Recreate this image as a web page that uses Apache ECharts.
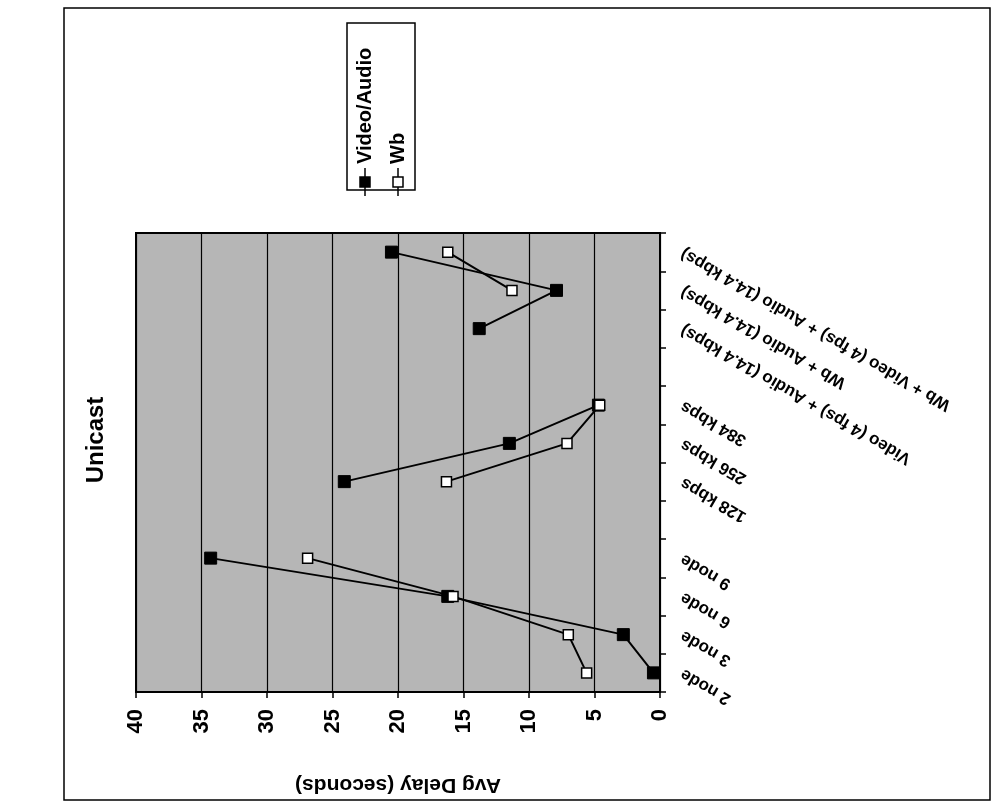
<!DOCTYPE html>
<html><head><meta charset="utf-8">
<script src="https://cdn.jsdelivr.net/npm/echarts@6/dist/echarts.min.js"></script>
<style>html,body{margin:0;padding:0;background:#fff}#c{width:997px;height:809px}</style>
</head><body><div id="c"></div>
<script>
const categories = ['2 node','3 node','6 node','9 node','','128 kbps','256 kbps','384 kbps','','Video (4 fps) + Audio (14.4 kbps)','Wb + Audio (14.4 kbps)','Wb + Video (4 fps) + Audio (14.4 kbps)'];
const videoAudio = [0.5, 2.8, 16.2, 34.3, null, 24.1, 11.5, 4.7, null, 13.8, 7.9, 20.5];
const wb = [5.6, 7.0, 15.8, 26.9, null, 16.3, 7.1, 4.6, null, null, 11.3, 16.2];
const seriesNames = ['Video/Audio', 'Wb'];
const titleText = 'Unicast';
const valueAxisTitle = 'Avg Delay (seconds)';
const valueMin = 0, valueMax = 40, valueStep = 5;

const FONT = 'Liberation Sans, Arial, sans-serif';
const chart = echarts.init(document.getElementById('c'), null, {renderer: 'canvas'});

function legendItem(i, x, filled) {
  return [
    {type: 'line', shape: {x1: x, y1: 168, x2: x, y2: 196}, style: {stroke: '#000', lineWidth: 1.5}},
    {type: 'rect', shape: {x: x - 5, y: 177, width: 10, height: 10},
     style: {fill: filled ? '#000' : '#fff', stroke: '#000', lineWidth: 1.5}},
    {type: 'text', x: x, y: 164, rotation: Math.PI / 2,
     style: {text: seriesNames[i], font: 'bold 20px ' + FONT, fill: '#000', align: 'left', verticalAlign: 'middle'}}
  ];
}

const option = {
  animation: false,
  backgroundColor: '#fff',
  grid: {left: 136, right: 337, top: 233, bottom: 117, show: true, backgroundColor: '#b6b6b6', borderColor: '#000', borderWidth: 2},
  xAxis: {
    type: 'value', min: valueMin, max: valueMax, interval: valueStep, inverse: true, position: 'bottom',
    axisLine: {show: true, lineStyle: {color: '#000', width: 2}},
    axisTick: {show: true, length: 6, lineStyle: {color: '#000', width: 1.5}},
    splitLine: {show: true, lineStyle: {color: '#000', width: 1.2}},
    axisLabel: {rotate: 90, margin: 17, fontSize: 22, fontWeight: 'bold', fontFamily: FONT, color: '#000'},
    name: valueAxisTitle, nameLocation: 'middle', nameRotate: 180, nameGap: 82,
    nameTextStyle: {fontSize: 21, fontWeight: 'bold', fontFamily: FONT, color: '#000'}
  },
  yAxis: {
    type: 'category', data: categories, position: 'right', boundaryGap: true,
    axisLine: {show: true, lineStyle: {color: '#000', width: 2}},
    axisTick: {show: true, length: 6, alignWithLabel: false, lineStyle: {color: '#000', width: 1.5}},
    splitLine: {show: false},
    axisLabel: {interval: 0, rotate: 150, align: 'right', verticalAlign: 'middle', margin: 22,
      fontSize: 17, fontWeight: 'bold', fontFamily: FONT, color: '#000'}
  },
  series: [
    {name: seriesNames[0], type: 'line', data: videoAudio, connectNulls: false,
     symbol: 'rect', symbolSize: 12, lineStyle: {color: '#000', width: 2},
     itemStyle: {color: '#000', borderColor: '#000'}},
    {name: seriesNames[1], type: 'line', data: wb, connectNulls: false,
     symbol: 'rect', symbolSize: 10, lineStyle: {color: '#000', width: 2},
     itemStyle: {color: '#fff', borderColor: '#000', borderWidth: 1.5}}
  ],
  graphic: [
    {type: 'rect', shape: {x: 64, y: 8, width: 926, height: 792}, style: {fill: 'none', stroke: '#000', lineWidth: 1.5}},
    {type: 'text', x: 96, y: 440, rotation: Math.PI / 2,
     style: {text: titleText, font: 'bold 24px ' + FONT, fill: '#000', align: 'center', verticalAlign: 'middle'}},
    {type: 'rect', shape: {x: 347, y: 23, width: 68, height: 167}, style: {fill: '#fff', stroke: '#000', lineWidth: 1.5}},
    ...legendItem(0, 365, true),
    ...legendItem(1, 398, false)
  ]
};
chart.setOption(option);
</script></body></html>
